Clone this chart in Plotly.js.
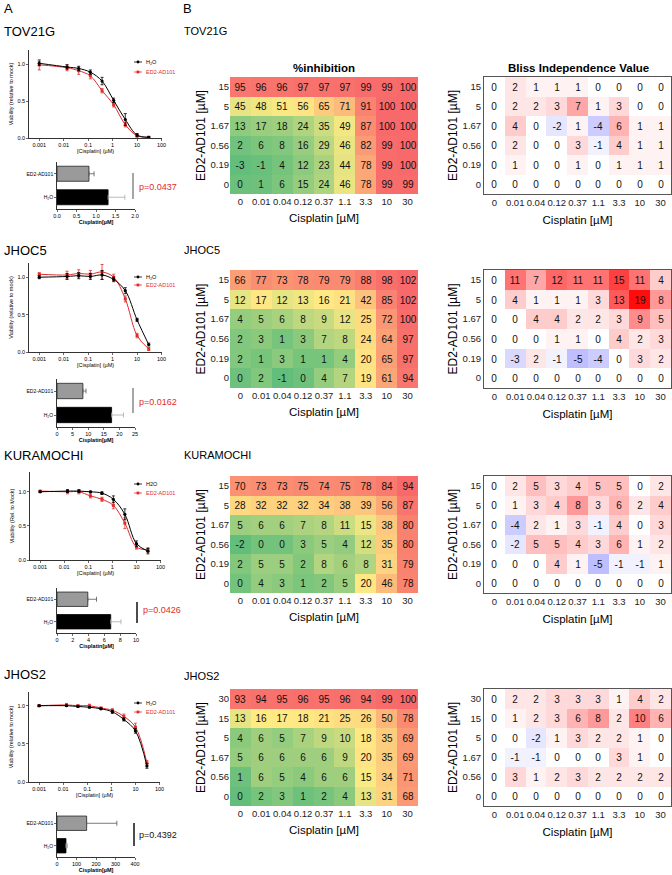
<!DOCTYPE html>
<html><head><meta charset="utf-8">
<script src="https://cdn.plot.ly/plotly-3.0.1.min.js"></script>
<style>html,body{margin:0;padding:0;background:#fff}</style>
</head><body><div id="chart" style="width:672px;height:875px"></div>
<script>
// ---------------- DATA ----------------
const cisplatinLabels = ['0','0.01','0.04','0.12','0.37','1.1','3.3','10','30'];
const doses = [0.001, 0.0137, 0.041, 0.123, 0.37, 1.1, 3.3, 10, 30];
const ed2Labels = ['15','5','1.67','0.56','0.19','0'];
const ed2LabelsJHOS2 = ['30','15','5','1.67','0.56','0'];
const barCategories = ['ED2-AD101','H₂O'];

// viability (relative to mock)
const tovH2O    = [1.01, 0.96, 0.94, 0.89, 0.77, 0.51, 0.25, 0.04, 0.01];
const tovH2OErr = [0.03, 0.03, 0.03, 0.03, 0.05, 0.03, 0.08, 0.02, 0.01];
const tovED2    = [0.99, 0.95, 0.91, 0.84, 0.64, 0.45, 0.18, 0.03, 0.01];
const tovED2Err = [0.07, 0.04, 0.05, 0.04, 0.03, 0.03, 0.03, 0.02, 0.01];

const jhoc5H2O    = [1.00, 1.01, 1.02, 1.01, 1.03, 0.97, 0.82, 0.43, 0.10];
const jhoc5H2OErr = [0.02, 0.04, 0.04, 0.04, 0.06, 0.03, 0.04, 0.02, 0.02];
const jhoc5ED2    = [1.04, 1.03, 1.05, 1.04, 1.07, 1.00, 0.71, 0.22, 0.04];
const jhoc5ED2Err = [0.02, 0.05, 0.05, 0.05, 0.10, 0.04, 0.04, 0.03, 0.02];

const kuraH2O    = [1.00, 1.01, 1.01, 1.00, 0.98, 0.89, 0.67, 0.24, 0.13];
const kuraH2OErr = [0.01, 0.02, 0.02, 0.01, 0.02, 0.05, 0.08, 0.04, 0.04];
const kuraED2    = [1.01, 1.00, 1.00, 0.94, 0.89, 0.80, 0.54, 0.19, 0.15];
const kuraED2Err = [0.01, 0.03, 0.03, 0.03, 0.03, 0.05, 0.08, 0.03, 0.03];

const jhos2H2O    = [1.00, 1.00, 0.99, 0.98, 0.96, 0.92, 0.82, 0.67, 0.21];
const jhos2H2OErr = [0.01, 0.01, 0.01, 0.01, 0.01, 0.02, 0.02, 0.03, 0.03];
const jhos2ED2    = [1.00, 1.01, 1.00, 1.00, 0.97, 0.94, 0.86, 0.72, 0.25];
const jhos2ED2Err = [0.01, 0.02, 0.01, 0.02, 0.01, 0.02, 0.03, 0.05, 0.03];

// IC50 bars (ED2-AD101, H2O)
const tovBar = [0.82, 1.31];   const tovBarErr = [0.13, 0.43];
const jhoc5Bar = [8.3, 17.5];  const jhoc5BarErr = [1.0, 3.8];
const kuraBar = [3.9, 6.8];    const kuraBarErr = [1.1, 1.3];
const jhos2Bar = [152, 46];    const jhos2BarErr = [155, 8];

// %inhibition (rows top->bottom as pictured)
const tovInh = [
 [95,96,96,97,97,97,99,99,100],
 [45,48,51,56,65,71,91,100,100],
 [13,17,18,24,35,49,87,100,100],
 [2,6,8,16,29,46,82,99,100],
 [-3,-1,4,12,23,44,78,99,100],
 [0,1,6,15,24,46,78,99,99]];
const tovBliss = [
 [0,2,1,1,1,0,0,0,0],
 [0,2,2,3,7,1,3,0,0],
 [0,4,0,-2,1,-4,6,1,1],
 [0,2,0,0,3,-1,4,1,1],
 [0,1,0,0,1,0,1,1,1],
 [0,0,0,0,0,0,0,0,0]];
const jhoc5Inh = [
 [66,77,73,78,79,79,88,98,102],
 [12,17,12,13,16,21,42,85,102],
 [4,5,6,8,9,12,25,72,100],
 [2,3,1,3,7,8,24,64,97],
 [2,1,3,1,1,4,20,65,97],
 [0,2,-1,0,4,7,19,61,94]];
const jhoc5Bliss = [
 [0,11,7,12,11,11,15,11,4],
 [0,4,1,1,1,3,13,19,8],
 [0,0,4,4,2,2,3,9,5],
 [0,0,0,1,1,0,4,2,3],
 [0,-3,2,-1,-5,-4,0,3,2],
 [0,0,0,0,0,0,0,0,0]];
const kuraInh = [
 [70,73,73,75,74,75,78,84,94],
 [28,32,32,32,34,38,39,56,87],
 [5,6,6,7,8,11,15,38,80],
 [-2,0,0,3,5,4,12,35,80],
 [2,5,5,2,8,6,8,31,79],
 [0,4,3,1,2,5,20,46,78]];
const kuraBliss = [
 [0,2,5,3,4,5,5,0,2],
 [0,1,3,4,8,3,6,2,4],
 [0,-4,2,1,3,-1,4,0,3],
 [0,-2,5,5,4,3,6,1,2],
 [0,0,0,4,1,-5,-1,-1,1],
 [0,0,0,0,0,0,0,0,0]];
const jhos2Inh = [
 [93,94,95,96,95,96,94,99,100],
 [13,16,17,18,21,25,26,50,78],
 [4,6,5,7,9,10,18,35,69],
 [5,6,6,6,6,9,20,35,69],
 [1,6,5,4,6,6,15,34,71],
 [0,2,3,1,2,4,13,31,68]];
const jhos2Bliss = [
 [0,2,2,3,3,3,1,4,2],
 [0,1,2,3,6,8,2,10,6],
 [0,0,-2,1,3,2,2,1,0],
 [0,-1,-1,0,0,0,3,1,0],
 [0,3,1,2,3,2,2,2,2],
 [0,0,0,0,0,0,0,0,0]];

// ---------------- LAYOUT CONFIG ----------------
const W = 672, H = 875;
const fx = p => p / W;
const fy = p => 1 - p / H;
const RED = '#e32b2b';
const FONT = 'Arial, "Liberation Sans", sans-serif';

const panels = [
 {name:'TOV21G', nameY:31, bNameY:31,
  curve:{l:29,r:162,t:50,b:138,yMax:1.19}, ytitle:'Viability (relative to mock)', legY:[62,72], h2oLeg:'H₂O',
  h2o:tovH2O, h2oErr:tovH2OErr, ed2:tovED2, ed2Err:tovED2Err,
  bar:{l:57,r:135,t:162,b:209,max:2,dtick:0.5,fmt:'.1f'}, barV:tovBar, barE:tovBarErr,
  p:'p=0.0437', pCol:RED, br:{x:133,y0:173,y1:199,c:'#888'}, pXY:[137,187],
  heat:{t:77,b:194}, inh:tovInh, bliss:tovBliss, yl:ed2Labels},
 {name:'JHOC5', nameY:250, bNameY:250,
  curve:{l:29,r:162,t:263,b:352,yMax:1.19}, ytitle:'Viability (relative to mock)', legY:[277,285], h2oLeg:'H₂O',
  h2o:jhoc5H2O, h2oErr:jhoc5H2OErr, ed2:jhoc5ED2, ed2Err:jhoc5ED2Err,
  bar:{l:57,r:135,t:379,b:427,max:25,dtick:5,fmt:'d'}, barV:jhoc5Bar, barE:jhoc5BarErr,
  p:'p=0.0162', pCol:RED, br:{x:133,y0:388,y1:413,c:'#888'}, pXY:[137,402],
  heat:{t:270,b:388}, inh:jhoc5Inh, bliss:jhoc5Bliss, yl:ed2Labels},
 {name:'KURAMOCHI', nameY:455, bNameY:455,
  curve:{l:30,r:161,t:472,b:560,yMax:1.29}, ytitle:'Viability (Rel. to Mock)', legY:[484,493], h2oLeg:'H2O',
  h2o:kuraH2O, h2oErr:kuraH2OErr, ed2:kuraED2, ed2Err:kuraED2Err,
  bar:{l:57,r:136,t:588,b:633,max:10,dtick:2,fmt:'d'}, barV:kuraBar, barE:kuraBarErr,
  p:'p=0.0426', pCol:RED, br:{x:137,y0:602,y1:623,c:'#111'}, pXY:[141,610],
  heat:{t:476,b:593}, inh:kuraInh, bliss:kuraBliss, yl:ed2Labels},
 {name:'JHOS2', nameY:674, bNameY:676,
  curve:{l:29,r:160,t:692,b:782,yMax:1.18}, ytitle:'Viability (relative to mock)', legY:[703,712], h2oLeg:'H₂O',
  h2o:jhos2H2O, h2oErr:jhos2H2OErr, ed2:jhos2ED2, ed2Err:jhos2ED2Err,
  bar:{l:57,r:135,t:812,b:857,max:400,dtick:100,fmt:'d'}, barV:jhos2Bar, barE:jhos2BarErr,
  p:'p=0.4392', pCol:'#111', br:{x:134,y0:823,y1:846,c:'#111'}, pXY:[137,835],
  heat:{t:689,b:806}, inh:jhos2Inh, bliss:jhos2Bliss, yl:ed2LabelsJHOS2}
];

const layout = {
  width: W, height: H, margin:{l:0,r:0,t:0,b:0},
  paper_bgcolor:'#fff', plot_bgcolor:'#fff', showlegend:false, barmode:'overlay',
  font:{family:FONT, color:'#000'}, annotations:[], shapes:[]
};
const traces = [];
let axN = 0;
function newAxes(xd, yd, xopt, yopt){
  axN++;
  const xs = axN===1 ? 'xaxis' : 'xaxis'+axN, ys = axN===1 ? 'yaxis' : 'yaxis'+axN;
  const xr = axN===1 ? 'x' : 'x'+axN, yr = axN===1 ? 'y' : 'y'+axN;
  layout[xs] = Object.assign({domain:[fx(xd[0]), fx(xd[1])], anchor:yr, fixedrange:true}, xopt);
  layout[ys] = Object.assign({domain:[fy(yd[1]), fy(yd[0])], anchor:xr, fixedrange:true}, yopt);
  return {x:xr, y:yr};
}
function ann(text, px, py, opt){
  layout.annotations.push(Object.assign({text:text, x:fx(px), y:fy(py), xref:'paper', yref:'paper',
    showarrow:false, xanchor:'left', yanchor:'middle', font:{size:10, family:FONT, color:'#000'}}, opt||{}));
}
function shp(s){ layout.shapes.push(Object.assign({xref:'paper', yref:'paper'}, s)); }

const tiny = {size:5.5, family:FONT, color:'#000'};
function median(m){ const a = m.flat().slice().sort((p,q)=>p-q); const n=a.length; return n%2 ? a[(n-1)/2] : (a[n/2-1]+a[n/2])/2; }
const asText = m => m.map(r => r.map(v => String(v)));

ann('A', 2, 9, {font:{size:13, family:FONT}});
ann('B', 181, 9, {font:{size:13, family:FONT}});
ann('<b>%inhibition</b>', 324, 68, {xanchor:'center', font:{size:11.5, family:FONT}});
ann('<b>Bliss Independence Value</b>', 578, 68, {xanchor:'center', font:{size:11.5, family:FONT}});

panels.forEach(P => {
  ann(P.name, 2, P.nameY, {font:{size:13, family:FONT}});
  ann(P.name, 182, P.bNameY, {font:{size:11, family:FONT}});

  // ---- dose-response curve ----
  const c = P.curve;
  const ax1 = newAxes([c.l,c.r],[c.t,c.b],
   {type:'log', range:[-3.42, 2.02], tickvals:[0.001,0.01,0.1,1,10,100], ticktext:['0.001','0.01','0.1','1','10','100'],
    tickangle:0, showline:true, linecolor:'#000', linewidth:0.8, ticks:'outside', ticklen:2, tickwidth:0.8, tickfont:tiny,
    showgrid:false, zeroline:false, title:{text:'[Cisplatin] (µM)', font:tiny, standoff:1}},
   {range:[0, c.yMax], tickvals:[0,0.5,1], ticktext:['0.0','0.5','1.0'],
    showline:true, linecolor:'#000', linewidth:0.8, ticks:'outside', ticklen:2, tickwidth:0.8, tickfont:tiny,
    showgrid:false, zeroline:false, title:{text:P.ytitle, font:tiny, standoff:3}});
  traces.push({type:'scatter', x:doses, y:P.ed2, xaxis:ax1.x, yaxis:ax1.y, mode:'lines+markers',
    line:{color:RED, width:1, shape:'spline', smoothing:1}, marker:{symbol:'square', size:3, color:RED},
    error_y:{type:'data', array:P.ed2Err, color:RED, thickness:0.8, width:1.5}, hoverinfo:'skip'});
  traces.push({type:'scatter', x:doses, y:P.h2o, xaxis:ax1.x, yaxis:ax1.y, mode:'lines+markers',
    line:{color:'#000', width:1, shape:'spline', smoothing:1}, marker:{symbol:'circle', size:3.2, color:'#000'},
    error_y:{type:'data', array:P.h2oErr, color:'#000', thickness:0.8, width:1.5}, hoverinfo:'skip'});
  // legend (manual, tiny)
  shp({type:'line', x0:fx(134), x1:fx(142), y0:fy(P.legY[0]), y1:fy(P.legY[0]), line:{color:'#000', width:0.8}});
  shp({type:'circle', x0:fx(136.6), x1:fx(139.4), y0:fy(P.legY[0]-1.4), y1:fy(P.legY[0]+1.4), fillcolor:'#000', line:{width:0}});
  shp({type:'line', x0:fx(134), x1:fx(142), y0:fy(P.legY[1]), y1:fy(P.legY[1]), line:{color:RED, width:0.8}});
  shp({type:'rect', x0:fx(136.6), x1:fx(139.4), y0:fy(P.legY[1]-1.4), y1:fy(P.legY[1]+1.4), fillcolor:RED, line:{width:0}});
  ann(P.h2oLeg, 144, P.legY[0], {font:tiny});
  ann('ED2-AD101', 144, P.legY[1], {font:{size:5.5, family:FONT, color:RED}});

  // ---- IC50 bars ----
  const b = P.bar;
  const ax2 = newAxes([b.l,b.r],[b.t,b.b],
   {range:[0, b.max], dtick:b.dtick, tick0:0, tickformat:b.fmt, tickangle:0, showline:true, linecolor:'#000', linewidth:0.8,
    ticks:'outside', ticklen:2, tickwidth:0.8, tickfont:tiny, showgrid:false, zeroline:false,
    title:{text:'<b>Cisplatin[µM]</b>', font:tiny, standoff:1}},
   {type:'category', categoryorder:'array', categoryarray:[barCategories[1], barCategories[0]],
    showline:true, linecolor:'#000', linewidth:0.8,
    ticks:'outside', ticklen:2, tickwidth:0.8, tickfont:{size:5, family:FONT, color:'#000'}, showgrid:false, zeroline:false});
  traces.push({type:'bar', orientation:'h', y:[barCategories[0]], x:[P.barV[0]], xaxis:ax2.x, yaxis:ax2.y, width:0.64,
    marker:{color:'#9a9a9a', line:{color:'#222', width:0.8}},
    error_x:{type:'data', symmetric:false, array:[P.barE[0]], arrayminus:[0], color:'#555', thickness:0.8, width:2.5}, hoverinfo:'skip'});
  traces.push({type:'bar', orientation:'h', y:[barCategories[1]], x:[P.barV[1]], xaxis:ax2.x, yaxis:ax2.y, width:0.64,
    marker:{color:'#000', line:{color:'#000', width:0.8}},
    error_x:{type:'data', symmetric:false, array:[P.barE[1]], arrayminus:[0], color:'#aaa', thickness:0.8, width:2.5}, hoverinfo:'skip'});
  shp({type:'line', x0:fx(P.br.x), x1:fx(P.br.x), y0:fy(P.br.y0), y1:fy(P.br.y1), line:{color:P.br.c, width:1.5}});
  ann(P.p, P.pXY[0], P.pXY[1], {font:{size:9, family:FONT, color:P.pCol}});

  // ---- %inhibition heatmap ----
  const h = P.heat;
  const axOpts = {type:'category', showgrid:false, zeroline:false, ticks:'', tickangle:0, tickfont:{size:9.5, family:FONT, color:'#222'}};
  const ax3 = newAxes([230,418],[h.t,h.b],
    Object.assign({}, axOpts, {title:{text:'Cisplatin [µM]', font:{size:11.5, family:FONT}, standoff:8}}),
    Object.assign({}, axOpts, {autorange:'reversed', title:{text:'ED2-AD101 [µM]', font:{size:12, family:FONT}, standoff:2}}));
  const mn = Math.min(...P.inh.flat()), mx = Math.max(...P.inh.flat()), md = median(P.inh);
  const f = (md - mn) / (mx - mn);
  traces.push({type:'heatmap', x:cisplatinLabels, y:P.yl, z:P.inh, text:asText(P.inh), xaxis:ax3.x, yaxis:ax3.y,
    zmin:mn, zmax:mx, colorscale:[[0,'#63BE7B'],[f,'#FFEB84'],[1,'#F8696B']], showscale:false,
    texttemplate:'%{text}', textfont:{size:10, family:FONT, color:'#111'}, hoverinfo:'skip'});

  // ---- Bliss heatmap ----
  const frame = {showline:true, mirror:true, linecolor:'#555', linewidth:1};
  const ax4 = newAxes([484,671],[h.t,h.b],
    Object.assign({}, axOpts, frame, {title:{text:'Cisplatin [µM]', font:{size:11.5, family:FONT}, standoff:8}}),
    Object.assign({}, axOpts, frame, {autorange:'reversed', title:{text:'ED2-AD101 [µM]', font:{size:12, family:FONT}, standoff:2}}));
  traces.push({type:'heatmap', x:cisplatinLabels, y:P.yl, z:P.bliss, text:asText(P.bliss), xaxis:ax4.x, yaxis:ax4.y,
    zmin:-20, zmax:20, colorscale:[[0,'rgb(0,0,255)'],[0.5,'rgb(255,255,255)'],[1,'rgb(255,0,0)']], showscale:false,
    texttemplate:'%{text}', textfont:{size:10, family:FONT, color:'#111'}, hoverinfo:'skip'});
});

Plotly.newPlot('chart', traces, layout, {displayModeBar:false, staticPlot:true});
</script>
</body></html>
